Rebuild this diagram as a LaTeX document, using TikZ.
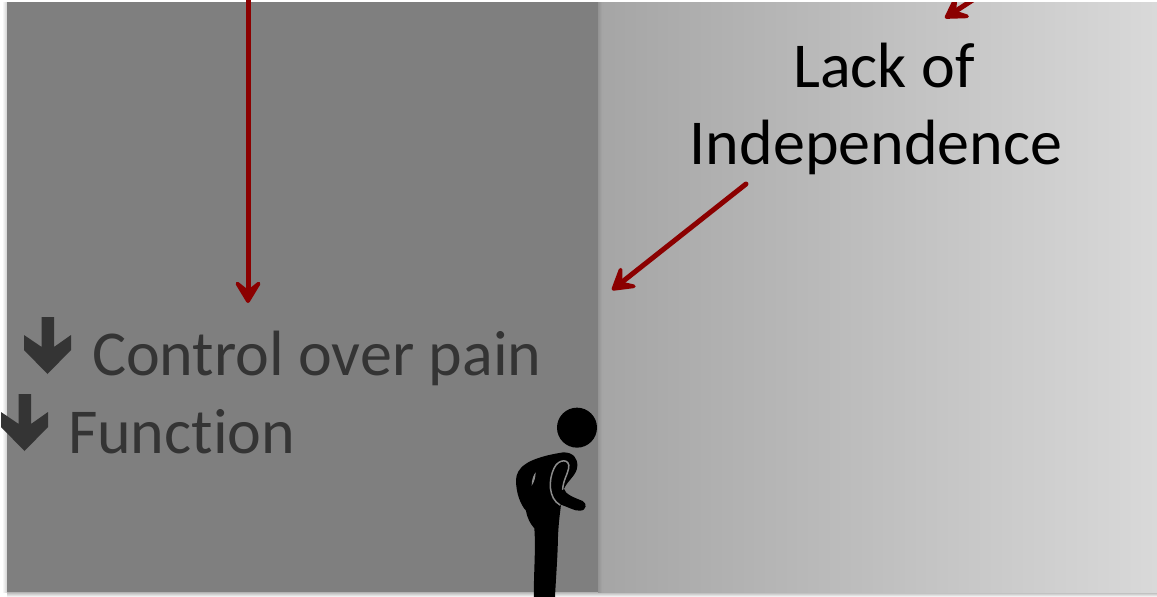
\documentclass[tikz,border=0pt]{standalone}
\usepackage{fontspec}
\setmainfont[Ligatures={NoCommon}]{Carlito}
\usetikzlibrary{arrows.meta}
\definecolor{panelL}{HTML}{7F7F7F}
\definecolor{panelA}{HTML}{A5A5A5}
\definecolor{panelB}{HTML}{D9D9D9}
\definecolor{darkred}{HTML}{8B0000}
\definecolor{dimtext}{HTML}{343434}
\tikzset{
  redarrow/.style={draw=darkred,line width=5pt,line cap=round,
    -{Stealth[length=29pt,width=35pt,inset=14pt,round,line width=4.5pt,sep=0pt]},shorten >=0pt},
  bigtext/.style={font=\fontsize{64}{68}\selectfont,text=black,anchor=base,inner sep=0pt,outer sep=0pt},
  dimlabel/.style={font=\fontsize{64}{68}\selectfont,text=dimtext,anchor=base west,inner sep=0pt,outer sep=0pt},
  blockdown/.style={fill=dimtext,draw=none},
}
\begin{document}
\begin{tikzpicture}[x=1pt,y=-1pt]
\useasboundingbox (0,0) rectangle (1157,597);
% shadows
\shade[top color=black!30,bottom color=white] (7,592) rectangle (1157,597);
\shade[left color=white,right color=black!18] (2,2) rectangle (7,592);
% panels
\shade[left color=panelA,right color=panelB] (598,2) rectangle (1157,592);
\shade[left color=black!42,right color=panelA] (598,2) rectangle (602,592);
\fill[panelL] (7,2) rectangle (598,592);
% labels
\node[bigtext] (lack) at (884,87) {Lack of};
\node[bigtext] (indep) at (876,164) {Independence};
\node[dimlabel] (control) at (92,375) {Control over pain};
\node[dimlabel] (func) at (68,453) {Function};
% block arrows
\foreach \dx/\dy/\nm in {0/0/a,-23/77/b}{
  \fill[blockdown,shift={(\dx,\dy)}] (41.7,317) -- (54,317) -- (54,347) -- (71,335) -- (71,350) -- (47.5,374) -- (24,350) -- (24,335) -- (41.7,347) -- cycle;
}
% connectors
\coordinate (t1) at (248,-4);
\coordinate (h1) at (248,303);
\coordinate (t2) at (746,184);
\coordinate (h2) at (612,290);
\coordinate (t3) at (985,-8);
\coordinate (h3) at (945,18);
\draw[redarrow] (t1) -- (h1);
\draw[redarrow] (t2) -- (h2);
\begin{scope}
\clip (0,2) rectangle (1157,597);
\draw[redarrow] (t3) -- (h3);
\end{scope}
% figure
\begin{scope}[shift={(480,390)},x=0.3333pt,y=-0.3333pt]
\fill[black] (291,113) circle (60);
\fill[black] (250,187) .. controls (280,187) and (293,205) .. (292,228)
  .. controls (291,255) and (264,270) .. (252,296)
  .. controls (256,312) and (275,320) .. (308,333)
  .. controls (322,340) and (320,362) .. (300,362)
  .. controls (285,364) and (262,350) .. (243,344)
  .. controls (240,370) and (236,395) .. (234,440)
  .. controls (233,500) and (228,560) .. (225,621)
  -- (162,621)
  .. controls (160,560) and (168,480) .. (163,415)
  .. controls (150,400) and (142,385) .. (138,362)
  .. controls (122,345) and (108,310) .. (108,270)
  .. controls (110,235) and (135,205) .. (250,187) -- cycle;
\draw[black!45,line width=1.5pt,line cap=round] (240,345) .. controls (205,325) and (205,270) .. (222,235)
  .. controls (235,205) and (272,205) .. (266,235) .. controls (262,255) and (250,270) .. (248,298);
\fill[black!45] (155,287) .. controls (155,270) and (160,255) .. (167,247) .. controls (167,262) and (162,278) .. (155,287) -- cycle;
\end{scope}
\end{tikzpicture}
\end{document}
